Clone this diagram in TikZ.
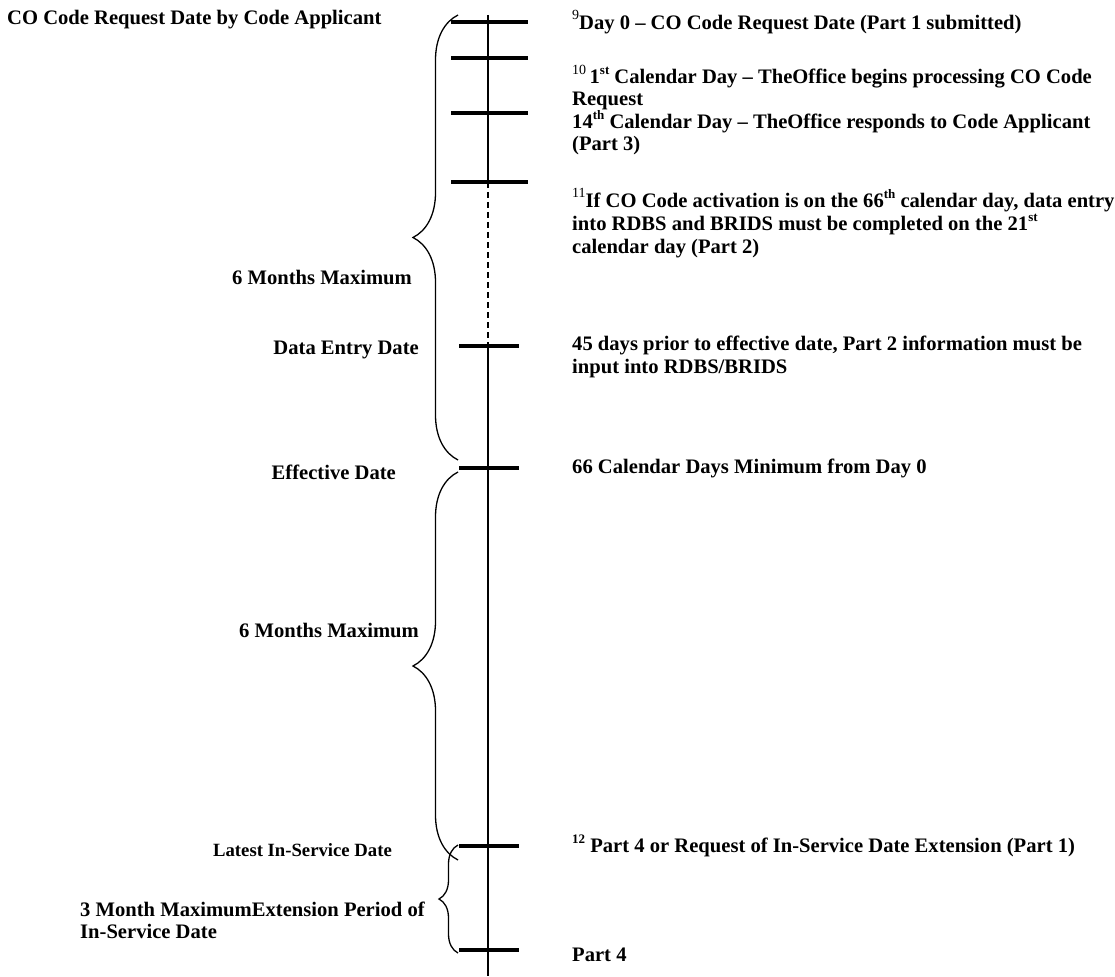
\documentclass[tikz,border=0pt]{standalone}
\usepackage{fontspec}
\setmainfont{Liberation Serif}
\usetikzlibrary{decorations.pathreplacing}
\newcommand{\fnmark}[1]{\raisebox{0.45em}{\mdseries\fontsize{14}{14}\selectfont#1}}
\newcommand{\sups}[1]{\raisebox{0.42em}{\fontsize{13}{13}\selectfont#1}}

\begin{document}
\begin{tikzpicture}[x=1pt,y=-1pt,
  lbl/.style={font=\bfseries\fontsize{20.6}{22.5}\selectfont,inner sep=0pt,align=left},
  longtick/.style={line width=3.5pt},
  shorttick/.style={line width=3.5pt},
  brc/.style={decorate,decoration={brace,amplitude=#1},line width=1.3pt}]
\useasboundingbox (0,0) rectangle (1115,976);

% time axis
\coordinate (top) at (488,15);
\coordinate (bot) at (488,976);
\coordinate (day21) at (488,182);
\coordinate (entry) at (488,346);
\draw[line width=1.4pt] (top) -- (day21);
\draw[line width=1.4pt,dash pattern=on 6pt off 4pt] (day21) -- (entry);
\draw[line width=1.4pt] (entry) -- (bot);

% ticks
\foreach \y in {22,58,113,182}
  \draw[longtick] (451,\y) -- (528,\y);
\foreach \y in {346,468,846,950}
  \draw[shorttick] (459,\y) -- (519,\y);

% braces
\coordinate (b1s) at (458,460);
\coordinate (b1e) at (458,15);
\coordinate (b2s) at (458,860);
\coordinate (b2e) at (458,472);
\coordinate (b3s) at (458,953);
\coordinate (b3e) at (458,845);
\draw[brc=45pt] (b1s) -- (b1e);
\draw[brc=45pt] (b2s) -- (b2e);
\draw[brc=19pt] (b3s) -- (b3e);

% left labels
\node[lbl,anchor=west] (applicant) at (7,20) {CO Code Request Date by Code Applicant};
\node[lbl,anchor=east] (sixa) at (412,277) {6 Months Maximum};
\node[lbl,anchor=east] (entrylbl) at (419,350) {Data Entry Date};
\node[lbl,anchor=east] (effective) at (396,472) {Effective Date};
\node[lbl,anchor=east] (sixb) at (419,630) {6 Months Maximum};
\node[lbl,anchor=east,font=\bfseries\fontsize{18.7}{21}\selectfont] (latest) at (392,850) {Latest In-Service Date};
\node[lbl,anchor=west,text depth=0pt] (threem) at (80,920) {3 Month MaximumExtension Period of\\In-Service Date};

% right labels
\node[lbl,anchor=west] (dayzero) at (572,22) {\fnmark{9}Day 0 -- CO Code Request Date (Part 1 submitted)};
\node[lbl,anchor=west] (dayone) at (572,110) {\fnmark{10}\,1\sups{st} Calendar Day -- TheOffice begins processing CO Code\\Request\\14\sups{th} Calendar Day -- TheOffice responds to Code Applicant\\(Part 3)};
\node[lbl,anchor=west,font=\bfseries\fontsize{20.6}{23}\selectfont] (dayact) at (572,223) {\fnmark{11}If CO Code activation is on the 66\sups{th} calendar day, data entry\\into RDBS and BRIDS must be completed on the 21\sups{st}\\calendar day (Part 2)};
\node[lbl,anchor=west] (prior) at (572,357) {45 days prior to effective date, Part 2 information must be\\input into RDBS/BRIDS};
\node[lbl,anchor=west] (minimum) at (572,468) {66 Calendar Days Minimum from Day 0};
\node[lbl,anchor=west] (extension) at (572,846) {\sups{12} Part 4 or Request of In-Service Date Extension (Part 1)};
\node[lbl,anchor=west] (partfour) at (572,955) {Part 4};

\end{tikzpicture}
\end{document}
